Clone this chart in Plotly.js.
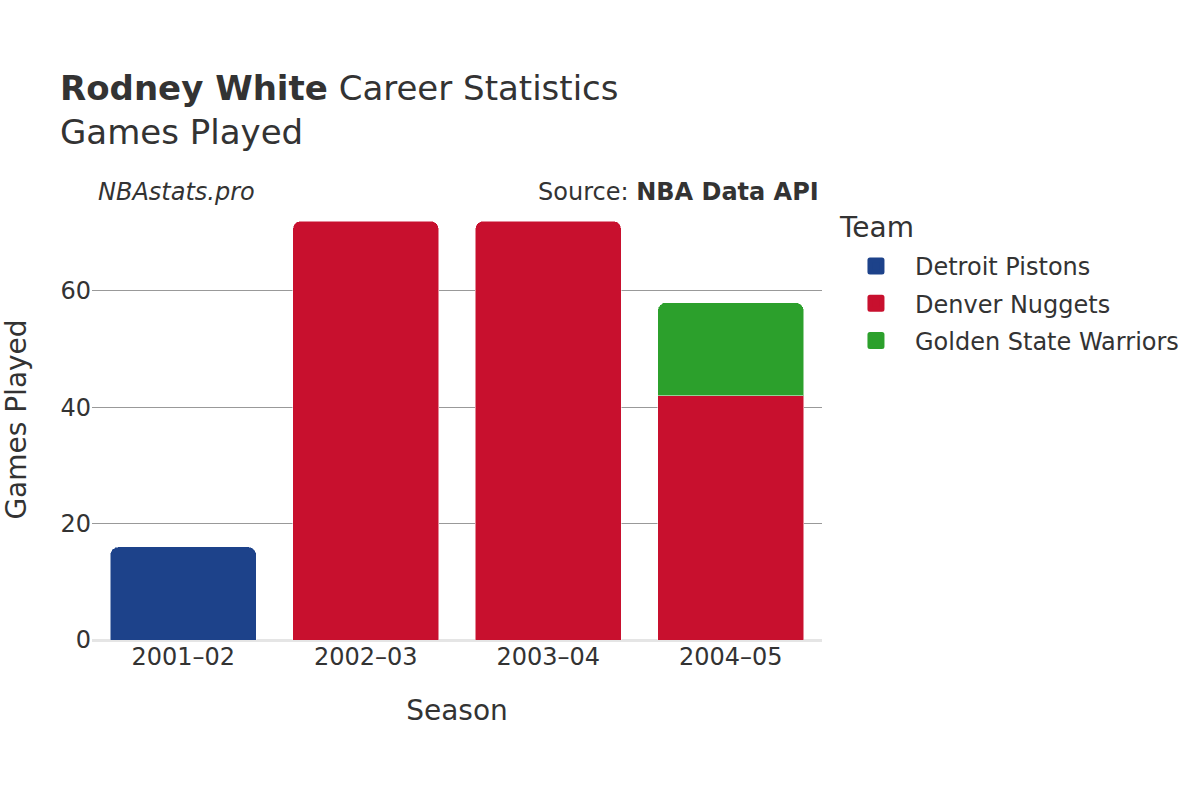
<!DOCTYPE html>
<html>
<head>
<meta charset="utf-8">
<script src="https://cdn.plot.ly/plotly-3.0.1.min.js"></script>
<style>
  body { margin: 0; }
  #chart { width: 1200px; height: 800px; }
  .legend .legendpoints path { stroke-linejoin: round; }
</style>
</head>
<body>
<div id="chart"></div>
<script>
// Seasons and games played per team
var seasons = ["2001–02", "2002–03", "2003–04", "2004–05"];
var pistonsGames = [16, null, null, null];
var nuggetsGames = [null, 72, 72, 42];
var warriorsGames = [null, null, null, 16];
var yTicks = [0, 20, 40, 60];

var teamNames = ["Detroit Pistons", "Denver Nuggets", "Golden State Warriors"];
var teamColors = ["#1d428a", "#c8102e", "#2ca02c"];
var teamGames = [pistonsGames, nuggetsGames, warriorsGames];

// real bars, legend hidden
var data = teamNames.map(function (name, i) {
  return {
    type: "bar",
    name: name,
    x: seasons,
    y: teamGames[i],
    showlegend: false,
    legendgroup: name,
    marker: {
      color: teamColors[i],
      line: {color: "rgba(255,255,255,0.5)", width: 1}
    }
  };
});

// empty bar traces only for the bigger legend swatches
teamNames.forEach(function (name, i) {
  data.push({
    type: "bar",
    name: name,
    x: [seasons[0]],
    y: [null],
    legendgroup: name,
    hoverinfo: "skip",
    marker: {
      color: teamColors[i],
      cornerradius: 0,
      line: {color: teamColors[i], width: 10}
    }
  });
});

var layout = {
  width: 1200,
  height: 800,
  barmode: "stack",
  bargap: 0.2,
  barcornerradius: 8,
  paper_bgcolor: "white",
  plot_bgcolor: "white",
  font: {family: "DejaVu Sans, sans-serif", color: "#333333", size: 24},
  margin: {l: 92, r: 378, t: 199, b: 160},
  title: {
    text: "<b>Rodney White</b> Career Statistics<br>Games Played",
    x: 0.05, xanchor: "left",
    y: 0.875, yanchor: "top",
    font: {size: 34, color: "#333333"}
  },
  xaxis: {
    title: {text: "Season", font: {size: 28}, standoff: 30},
    tickfont: {size: 24},
    showgrid: false
  },
  yaxis: {
    title: {text: "Games Played", font: {size: 28}, standoff: 25},
    tickvals: yTicks,
    tickfont: {size: 24},
    showgrid: true,
    gridcolor: "#999999",
    gridwidth: 1,
    zeroline: true,
    zerolinecolor: "#e5e5e5",
    zerolinewidth: 3,
    ticks: "",
    range: [0, 75.8]
  },
  legend: {
    x: 1.0205, xanchor: "left",
    y: 0.898, yanchor: "top",
    font: {size: 24},
    itemwidth: 68,
    traceorder: "grouped",
    tracegroupgap: 3
  },
  annotations: [
    {
      text: "Team",
      xref: "paper", yref: "paper",
      x: 1.0205, y: 0.935, xanchor: "left", yanchor: "middle",
      showarrow: false,
      font: {size: 28, color: "#333333"}
    },
    {
      text: "<i>NBAstats.pro</i>",
      xref: "paper", yref: "paper",
      x: 0.005, y: 1.0159, xanchor: "left", yanchor: "middle",
      showarrow: false,
      font: {size: 24, color: "#333333"}
    },
    {
      text: "Source: <b>NBA Data API</b>",
      xref: "paper", yref: "paper",
      x: 0.998, y: 1.0159, xanchor: "right", yanchor: "middle",
      showarrow: false,
      font: {size: 24, color: "#333333"}
    }
  ]
};

Plotly.newPlot("chart", data, layout, {displayModeBar: false});
</script>
</body>
</html>
